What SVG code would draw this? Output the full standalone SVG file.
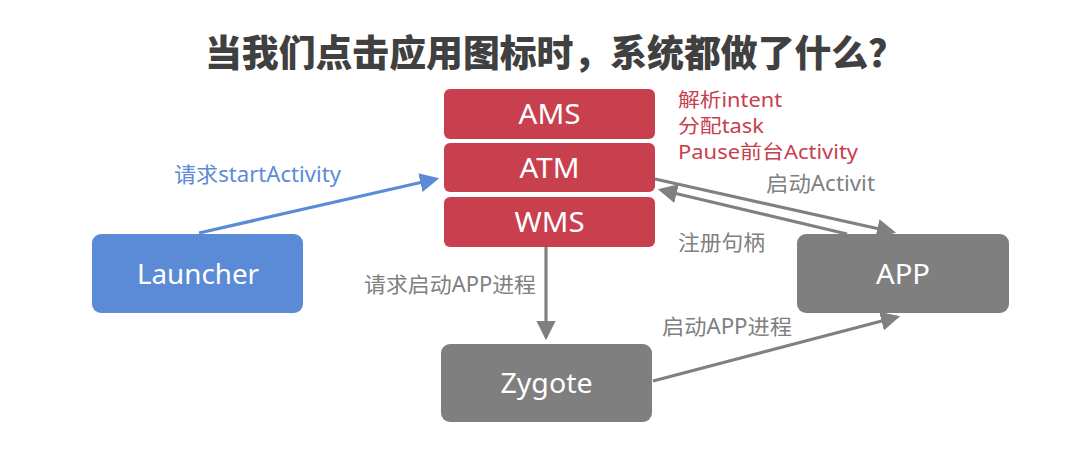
<svg xmlns="http://www.w3.org/2000/svg" width="1070" height="470" viewBox="0 0 1070 470">
<style>
text{font-family:"Noto Sans","Noto Sans CJK SC",sans-serif}
.title{font-family:"Noto Sans CJK SC",sans-serif;font-weight:900;font-size:37px;fill:#404040}
.red{fill:#c8404e}
.blue{fill:#5b8bd6}
.gray{fill:#7f7f7f}
.nt{fill:#fff;font-size:28px;text-anchor:middle}
.redl{fill:#c8404e;font-size:19px}
.bl{fill:#5b8bd6;font-size:21px}
.gl{fill:#808080;font-size:21px}
.c{fill:none;stroke-width:3.2}
</style>
<defs>
<marker id="ab" markerWidth="6" markerHeight="6" refX="5" refY="3" orient="auto" markerUnits="strokeWidth"><path d="M0,0 L6,3 L0,6 Z" fill="#5b8bd6"/></marker>
<marker id="ag" markerWidth="6" markerHeight="6" refX="5" refY="3" orient="auto" markerUnits="strokeWidth"><path d="M0,0 L6,3 L0,6 Z" fill="#808080"/></marker>
</defs>
<rect width="1070" height="470" fill="#fff"/>
<text class="title" x="205" y="67" textLength="700" lengthAdjust="spacingAndGlyphs">当我们点击应用图标时，系统都做了什么？</text>
<g id="connectors">
<line class="c" x1="199" y1="233" x2="436" y2="179" stroke="#5b8bd6" marker-end="url(#ab)"/>
<line class="c" x1="655" y1="179" x2="893" y2="232" stroke="#808080" marker-end="url(#ag)"/>
<line class="c" x1="847" y1="234" x2="661" y2="190" stroke="#808080" marker-end="url(#ag)"/>
<line class="c" x1="546" y1="247" x2="546" y2="337" stroke="#808080" marker-end="url(#ag)"/>
<line class="c" x1="653" y1="381" x2="897" y2="317" stroke="#808080" marker-end="url(#ag)"/>
<text class="bl" x="174" y="182" textLength="167" lengthAdjust="spacingAndGlyphs">请求startActivity</text>
<text class="gl" x="766" y="191" textLength="109" lengthAdjust="spacingAndGlyphs">启动Activit</text>
<text class="gl" x="678" y="250" textLength="87" lengthAdjust="spacingAndGlyphs">注册句柄</text>
<text class="gl" x="364" y="292" textLength="172" lengthAdjust="spacingAndGlyphs">请求启动APP进程</text>
<text class="gl" x="662" y="334" textLength="130" lengthAdjust="spacingAndGlyphs">启动APP进程</text>
</g>
<g id="AMS"><rect x="444" y="89" width="211" height="50" rx="6" class="red"/><text class="nt" x="549.5" y="124" textLength="62" lengthAdjust="spacingAndGlyphs">AMS</text></g>
<g id="ATM"><rect x="444" y="143" width="211" height="49" rx="6" class="red"/><text class="nt" x="549.5" y="178" textLength="60" lengthAdjust="spacingAndGlyphs">ATM</text></g>
<g id="WMS"><rect x="444" y="197" width="211" height="50" rx="6" class="red"/><text class="nt" x="549.5" y="232" textLength="70" lengthAdjust="spacingAndGlyphs">WMS</text></g>
<g id="ams-notes">
<text class="redl" x="678" y="107" textLength="104" lengthAdjust="spacingAndGlyphs">解析intent</text>
<text class="redl" x="678" y="133" textLength="86" lengthAdjust="spacingAndGlyphs">分配task</text>
<text class="redl" x="678" y="159" textLength="180" lengthAdjust="spacingAndGlyphs">Pause前台Activity</text>
</g>
<g id="Launcher"><rect x="92" y="234" width="211" height="79" rx="9" class="blue"/><text class="nt" x="198" y="284" textLength="122" lengthAdjust="spacingAndGlyphs">Launcher</text></g>
<g id="APP"><rect x="797" y="234" width="212" height="79" rx="9" class="gray"/><text class="nt" x="903" y="284" textLength="54" lengthAdjust="spacingAndGlyphs">APP</text></g>
<g id="Zygote"><rect x="441" y="344" width="211" height="78" rx="9" class="gray"/><text class="nt" x="546.5" y="393" textLength="92" lengthAdjust="spacingAndGlyphs">Zygote</text></g>
</svg>
